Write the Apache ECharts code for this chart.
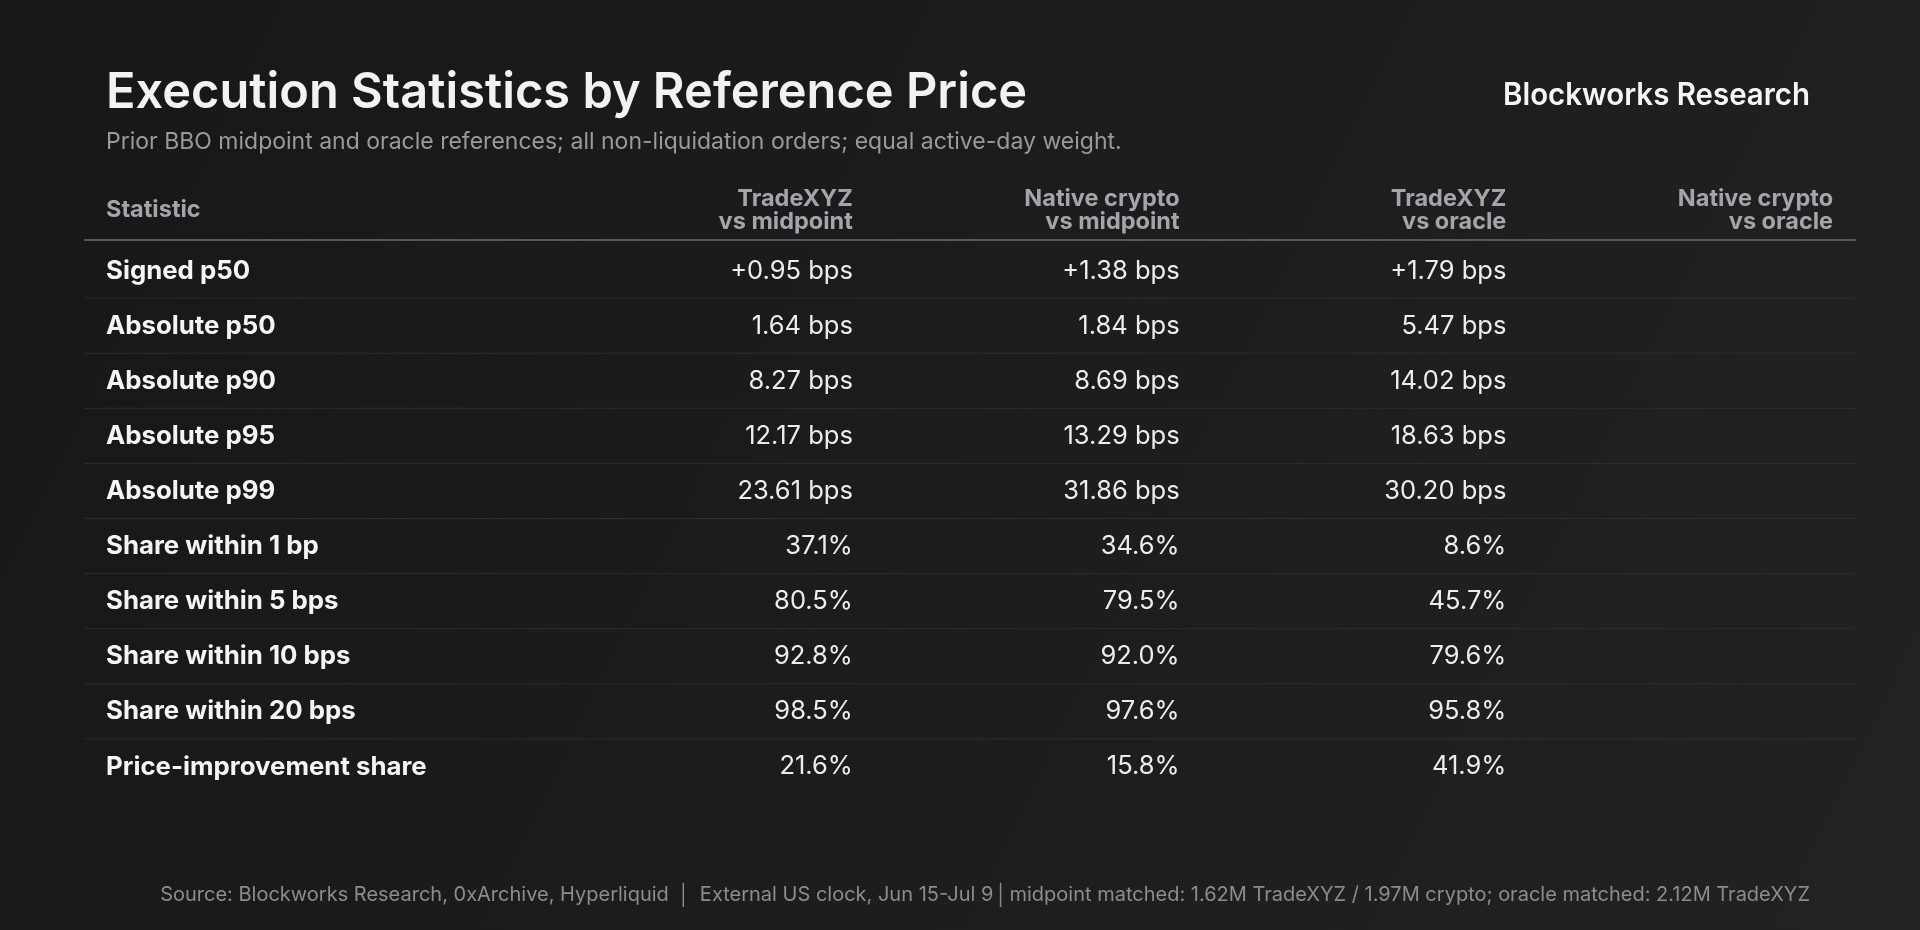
<!DOCTYPE html>
<html>
<head>
<meta charset="utf-8">
<script src="https://cdn.jsdelivr.net/npm/echarts@6/dist/echarts.min.js"></script>
<style>
  html, body { margin: 0; padding: 0; background: #1b1b1b; }
  #chart { width: 1920px; height: 930px; }
</style>
</head>
<body>
<div id="chart"></div>
<script>
// table rows
const statistics = [
  'Signed p50', 'Absolute p50', 'Absolute p90', 'Absolute p95', 'Absolute p99',
  'Share within 1 bp', 'Share within 5 bps', 'Share within 10 bps', 'Share within 20 bps',
  'Price-improvement share'
];
// how each row is printed
const rowKinds = ['signed', 'bps', 'bps', 'bps', 'bps', 'pct', 'pct', 'pct', 'pct', 'pct'];

// columns
const columns = ['TradeXYZ\nvs midpoint', 'Native crypto\nvs midpoint', 'TradeXYZ\nvs oracle', 'Native crypto\nvs oracle'];
const tradeMid = [0.95, 1.64, 8.27, 12.17, 23.61, 37.1, 80.5, 92.8, 98.5, 21.6];
const cryptoMid = [1.38, 1.84, 8.69, 13.29, 31.86, 34.6, 79.5, 92.0, 97.6, 15.8];
const tradeOracle = [1.79, 5.47, 14.02, 18.63, 30.20, 8.6, 45.7, 79.6, 95.8, 41.9];
const cryptoOracle = [null, null, null, null, null, null, null, null, null, null];

const FONT = 'Inter, "Noto Sans", sans-serif';

function fmt(v, kind) {
  if (v == null) return '';
  if (kind === 'pct') return v.toFixed(1) + '%';
  const s = v.toFixed(2) + ' bps';
  return kind === 'signed' && v > 0 ? '+' + s : s;
}

const chart = echarts.init(document.getElementById('chart'));
const colValues = [tradeMid, cryptoMid, tradeOracle, cryptoOracle];

chart.setOption({
  backgroundColor: new echarts.graphic.LinearGradient(0, 0, 1, 1, [
    { offset: 0, color: '#171717' },
    { offset: 1, color: '#222222' }
  ]),
  animation: false,
  graphic: [{
    // title
    type: 'text', x: 106, y: 93, scaleX: 0.975,
    style: {
      text: 'Execution Statistics by Reference Price',
      align: 'left', verticalAlign: 'middle',
      fill: '#f2f2f2', font: '600 50px ' + FONT
    }
  }, {
    type: 'text', x: 106, y: 142,
    style: {
      text: 'Prior BBO midpoint and oracle references; all non-liquidation orders; equal active-day weight.',
      align: 'left', verticalAlign: 'middle',
      fill: '#9a9a9a', font: '400 23px ' + FONT
    }
  }, {
    type: 'text', x: 1810, y: 96, scaleX: 0.95,
    style: {
      text: 'Blockworks Research',
      align: 'right', verticalAlign: 'middle',
      fill: '#f5f5f5', font: '600 31px ' + FONT
    }
  }, {
    type: 'text', x: 1810, y: 895,
    style: {
      text: 'Source: Blockworks Research, 0xArchive, Hyperliquid \u2009\u2502\u2009 External US clock, Jun 15-Jul 9\u200a\u2502\u200amidpoint matched: 1.62M TradeXYZ / 1.97M crypto; oracle matched: 2.12M TradeXYZ',
      align: 'right', verticalAlign: 'middle',
      fill: '#8c8c8c', font: '400 20px ' + FONT
    }
  }, {
    type: 'text', x: 106, y: 210,
    style: {
      text: 'Statistic', align: 'left', verticalAlign: 'middle',
      fill: '#a4a4ac', font: '700 23.5px ' + FONT
    }
  }],
  grid: { left: 85, right: 65, top: 243, bottom: 136 },
  xAxis: {
    type: 'value',
    position: 'top',
    min: -1.35,
    max: 4.067,
    offset: 3,
    splitLine: { show: false },
    axisTick: { show: false },
    axisLine: { show: true, onZero: false, lineStyle: { color: '#58585c', width: 2 } },
    axisLabel: {
      customValues: [1, 2, 3, 4],
      align: 'right',
      margin: 6,
      fontFamily: FONT,
      fontSize: 23.5,
      fontWeight: 700,
      lineHeight: 23.5,
      color: '#a4a4ac',
      formatter: v => columns[Math.round(v) - 1] || ''
    }
  },
  yAxis: {
    type: 'category',
    inverse: true,
    data: statistics,
    axisLine: { show: false },
    axisTick: { show: false },
    axisLabel: { show: false },
    splitLine: { show: false }
  },
  series: [{
    type: 'custom',
    data: statistics.map(s => [0, s]),
    encode: { x: 0, y: 1 },
    renderItem: function (params, api) {
      const i = params.dataIndex;
      const cs = params.coordSys;
      const y = api.coord([0, i])[1];
      const band = api.size([0, 1])[1];
      const children = [{
        type: 'text',
        style: {
          text: statistics[i], x: cs.x + 21, y: y + 0.3,
          align: 'left', verticalAlign: 'middle',
          fill: '#f4f4f4', font: '700 25.8px ' + FONT
        }
      }];
      colValues.forEach((arr, k) => {
        const txt = fmt(arr[i], rowKinds[i]);
        if (!txt) return;
        children.push({
          type: 'text',
          style: {
            text: txt, x: api.coord([k + 1, i])[0], y: y + 0.3,
            align: 'right', verticalAlign: 'middle',
            fill: '#ededed', font: '400 25.5px ' + FONT
          }
        });
      });
      if (i < statistics.length - 1) {
        children.push({
          type: 'line',
          shape: { x1: cs.x, y1: y + band / 2, x2: cs.x + cs.width, y2: y + band / 2 },
          style: { stroke: '#2d2d2d', lineWidth: 1 }
        });
      }
      return { type: 'group', children: children };
    }
  }]
});
</script>
</body>
</html>
